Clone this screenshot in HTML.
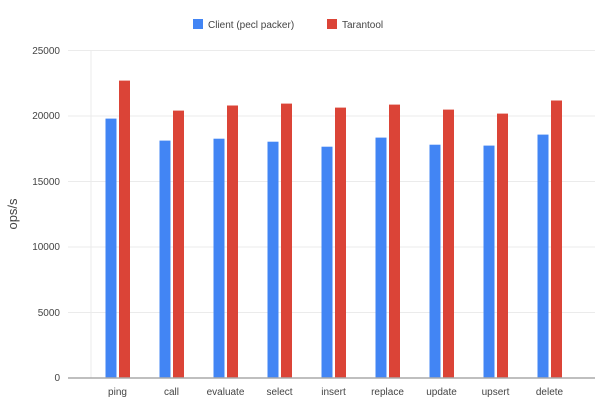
<!DOCTYPE html><html><head><style>body{margin:0;background:#fff}</style></head><body>
<svg width="600" height="400" xmlns="http://www.w3.org/2000/svg" font-family="Liberation Sans, DejaVu Sans, sans-serif">
<rect width="600" height="400" fill="#fff"/>
<g stroke="#ebebeb" stroke-width="1">
<line x1="68" x2="595" y1="50.5" y2="50.5"/><line x1="68" x2="595" y1="116" y2="116"/><line x1="68" x2="595" y1="181.5" y2="181.5"/><line x1="68" x2="595" y1="247" y2="247"/><line x1="68" x2="595" y1="312.5" y2="312.5"/>
<line x1="91" x2="91" y1="50" y2="378"/>
</g>
<g font-size="10" fill="#444" text-anchor="end">
<text x="60" y="54">25000</text><text x="60" y="119">20000</text><text x="60" y="185">15000</text><text x="60" y="250">10000</text><text x="60" y="316">5000</text><text x="60" y="381">0</text>
</g>
<text transform="translate(17,214) rotate(-90)" font-size="13" fill="#444" text-anchor="middle">ops/s</text>
<g fill="#4285f4">
<rect x="105.5" y="118.6" width="11" height="259.4"/>
<rect x="159.5" y="140.6" width="11" height="237.4"/>
<rect x="213.5" y="138.7" width="11" height="239.3"/>
<rect x="267.5" y="141.7" width="11" height="236.3"/>
<rect x="321.5" y="146.7" width="11" height="231.3"/>
<rect x="375.5" y="137.6" width="11" height="240.4"/>
<rect x="429.5" y="144.7" width="11" height="233.3"/>
<rect x="483.5" y="145.6" width="11" height="232.4"/>
<rect x="537.5" y="134.6" width="11" height="243.4"/>
</g>
<g fill="#db4437">
<rect x="119" y="80.6" width="11" height="297.4"/>
<rect x="173" y="110.6" width="11" height="267.4"/>
<rect x="227" y="105.5" width="11" height="272.5"/>
<rect x="281" y="103.6" width="11" height="274.4"/>
<rect x="335" y="107.6" width="11" height="270.4"/>
<rect x="389" y="104.6" width="11" height="273.4"/>
<rect x="443" y="109.6" width="11" height="268.4"/>
<rect x="497" y="113.6" width="11" height="264.4"/>
<rect x="551" y="100.5" width="11" height="277.5"/>
</g>
<line x1="68" x2="595" y1="378" y2="378" stroke="#aaa" stroke-width="1.5"/>
<g font-size="10" fill="#444" text-anchor="middle">
<text x="117.5" y="395">ping</text><text x="171.5" y="395">call</text><text x="225.5" y="395">evaluate</text><text x="279.5" y="395">select</text><text x="333.5" y="395">insert</text><text x="387.5" y="395">replace</text><text x="441.5" y="395">update</text><text x="495.5" y="395">upsert</text><text x="549.5" y="395">delete</text>
</g>
<rect x="193" y="19" width="10" height="10" fill="#4285f4"/><text x="208" y="28" font-size="10" fill="#444">Client (pecl packer)</text>
<rect x="327" y="19" width="10" height="10" fill="#db4437"/><text x="342" y="28" font-size="10" fill="#444">Tarantool</text>
</svg></body></html>
